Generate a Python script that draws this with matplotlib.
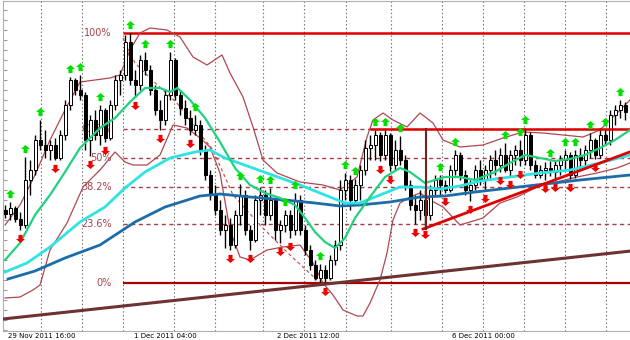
"""Candlestick chart with Fibonacci levels, moving averages and Bollinger bands."""
import matplotlib
matplotlib.use("Agg")
import matplotlib.pyplot as plt
import matplotlib.transforms as mtransforms
from matplotlib.path import Path
from matplotlib.ticker import MultipleLocator
import numpy as np

# --- candles (one per bar) ---
opens = [
    1.2240, 1.2232, 1.2244, 1.2222, 1.2210, 1.2300, 1.2320, 1.2380, 1.2370, 1.2360,
    1.2370, 1.2344, 1.2390, 1.2450, 1.2500, 1.2480, 1.2470, 1.2380, 1.2420, 1.2390,
    1.2440, 1.2384, 1.2450, 1.2500, 1.2510, 1.2576, 1.2500, 1.2490, 1.2540, 1.2520,
    1.2480, 1.2440, 1.2420, 1.2470, 1.2540, 1.2470, 1.2444, 1.2424, 1.2400, 1.2410,
    1.2360, 1.2310, 1.2270, 1.2240, 1.2200, 1.2210, 1.2170, 1.2230, 1.2270, 1.2200,
    1.2180, 1.2260, 1.2270, 1.2230, 1.2260, 1.2200, 1.2210, 1.2230, 1.2200, 1.2260,
    1.2200, 1.2160, 1.2130, 1.2104, 1.2120, 1.2104, 1.2140, 1.2170, 1.2280, 1.2300,
    1.2260, 1.2290, 1.2320, 1.2364, 1.2370, 1.2390, 1.2350, 1.2390, 1.2330, 1.2360,
    1.2340, 1.2290, 1.2250, 1.2240, 1.2260, 1.2230, 1.2280, 1.2300, 1.2290, 1.2280,
    1.2320, 1.2350, 1.2310, 1.2280, 1.2290, 1.2320, 1.2300, 1.2320, 1.2340, 1.2330,
    1.2350, 1.2320, 1.2350, 1.2360, 1.2340, 1.2390, 1.2330, 1.2310, 1.2320, 1.2324,
    1.2316, 1.2330, 1.2340, 1.2350, 1.2310, 1.2350, 1.2340, 1.2360, 1.2380, 1.2350,
    1.2390, 1.2380, 1.2430, 1.2440, 1.2450,
]
highs = [
    1.2250, 1.2256, 1.2248, 1.2236, 1.2346, 1.2340, 1.2390, 1.2420, 1.2400, 1.2380,
    1.2384, 1.2400, 1.2460, 1.2506, 1.2504, 1.2510, 1.2476, 1.2430, 1.2440, 1.2450,
    1.2444, 1.2460, 1.2510, 1.2520, 1.2590, 1.2594, 1.2520, 1.2550, 1.2556, 1.2530,
    1.2490, 1.2460, 1.2480, 1.2556, 1.2544, 1.2480, 1.2460, 1.2440, 1.2430, 1.2420,
    1.2370, 1.2320, 1.2290, 1.2260, 1.2230, 1.2224, 1.2240, 1.2292, 1.2280, 1.2210,
    1.2270, 1.2286, 1.2280, 1.2284, 1.2264, 1.2220, 1.2240, 1.2240, 1.2274, 1.2270,
    1.2210, 1.2170, 1.2140, 1.2132, 1.2130, 1.2150, 1.2180, 1.2300, 1.2314, 1.2310,
    1.2302, 1.2330, 1.2380, 1.2390, 1.2400, 1.2396, 1.2400, 1.2394, 1.2380, 1.2388,
    1.2350, 1.2300, 1.2270, 1.2280, 1.2280, 1.2290, 1.2310, 1.2310, 1.2300, 1.2330,
    1.2360, 1.2356, 1.2320, 1.2300, 1.2330, 1.2340, 1.2330, 1.2350, 1.2360, 1.2364,
    1.2374, 1.2360, 1.2370, 1.2380, 1.2404, 1.2396, 1.2340, 1.2330, 1.2336, 1.2338,
    1.2340, 1.2350, 1.2360, 1.2356, 1.2360, 1.2364, 1.2370, 1.2394, 1.2384, 1.2404,
    1.2400, 1.2440, 1.2450, 1.2460, 1.2456,
]
lows = [
    1.2224, 1.2220, 1.2216, 1.2200, 1.2204, 1.2270, 1.2310, 1.2360, 1.2344, 1.2340,
    1.2340, 1.2340, 1.2380, 1.2440, 1.2470, 1.2460, 1.2360, 1.2348, 1.2380, 1.2370,
    1.2376, 1.2380, 1.2440, 1.2470, 1.2500, 1.2490, 1.2466, 1.2480, 1.2510, 1.2470,
    1.2430, 1.2400, 1.2410, 1.2460, 1.2460, 1.2430, 1.2410, 1.2390, 1.2390, 1.2350,
    1.2300, 1.2260, 1.2230, 1.2190, 1.2164, 1.2160, 1.2164, 1.2210, 1.2190, 1.2160,
    1.2176, 1.2230, 1.2210, 1.2220, 1.2180, 1.2174, 1.2196, 1.2184, 1.2190, 1.2190,
    1.2150, 1.2120, 1.2100, 1.2096, 1.2094, 1.2100, 1.2130, 1.2160, 1.2260, 1.2240,
    1.2250, 1.2260, 1.2310, 1.2340, 1.2340, 1.2338, 1.2340, 1.2318, 1.2320, 1.2330,
    1.2280, 1.2240, 1.2212, 1.2220, 1.2208, 1.2220, 1.2270, 1.2270, 1.2274, 1.2276,
    1.2310, 1.2300, 1.2270, 1.2258, 1.2280, 1.2290, 1.2280, 1.2300, 1.2310, 1.2316,
    1.2316, 1.2308, 1.2330, 1.2328, 1.2330, 1.2320, 1.2304, 1.2304, 1.2300, 1.2308,
    1.2302, 1.2310, 1.2320, 1.2302, 1.2304, 1.2320, 1.2324, 1.2344, 1.2342, 1.2344,
    1.2370, 1.2370, 1.2410, 1.2424, 1.2420,
]
closes = [
    1.2232, 1.2244, 1.2222, 1.2210, 1.2300, 1.2320, 1.2380, 1.2370, 1.2360, 1.2370,
    1.2344, 1.2390, 1.2450, 1.2500, 1.2480, 1.2470, 1.2380, 1.2420, 1.2390, 1.2440,
    1.2384, 1.2450, 1.2500, 1.2510, 1.2576, 1.2500, 1.2490, 1.2540, 1.2520, 1.2480,
    1.2440, 1.2420, 1.2470, 1.2540, 1.2470, 1.2444, 1.2424, 1.2400, 1.2410, 1.2360,
    1.2310, 1.2270, 1.2240, 1.2200, 1.2210, 1.2170, 1.2230, 1.2270, 1.2200, 1.2180,
    1.2260, 1.2270, 1.2230, 1.2260, 1.2200, 1.2210, 1.2230, 1.2200, 1.2260, 1.2200,
    1.2160, 1.2130, 1.2104, 1.2120, 1.2104, 1.2140, 1.2170, 1.2280, 1.2300, 1.2260,
    1.2290, 1.2320, 1.2364, 1.2370, 1.2390, 1.2350, 1.2390, 1.2330, 1.2360, 1.2340,
    1.2290, 1.2250, 1.2240, 1.2260, 1.2230, 1.2280, 1.2300, 1.2290, 1.2280, 1.2320,
    1.2350, 1.2310, 1.2280, 1.2290, 1.2320, 1.2300, 1.2320, 1.2340, 1.2330, 1.2350,
    1.2320, 1.2350, 1.2360, 1.2340, 1.2390, 1.2330, 1.2310, 1.2320, 1.2324, 1.2316,
    1.2330, 1.2340, 1.2350, 1.2310, 1.2350, 1.2340, 1.2360, 1.2380, 1.2350, 1.2390,
    1.2380, 1.2430, 1.2440, 1.2450, 1.2436,
]

# fractal arrows (bar numbers)
fractal_up = [1, 4, 7, 13, 15, 19, 25, 28, 33, 38, 47, 51, 53, 56, 58, 63, 68, 70,
              74, 76, 79, 87, 90, 100, 103, 104, 109, 112, 114, 117, 120, 123]
fractal_down = [3, 10, 17, 20, 26, 31, 37, 45, 49, 55, 57, 64, 75, 77, 82, 84, 88,
                93, 96, 99, 101, 103, 108, 110, 113, 118]

# --- indicators ---
ma_fast_x = [0, 3, 6, 9, 12, 15, 19, 22, 25, 28, 31, 33, 34.5, 37, 40, 43, 46, 49, 52, 55,
             58, 60, 62, 64, 66, 68, 70, 73, 76, 79, 81, 84, 88, 91, 94, 98, 101, 104,
             107, 110, 113, 116, 119, 122, 125]
ma_fast = [1.2140, 1.2174, 1.2230, 1.2270, 1.2316, 1.2364, 1.2404, 1.2424, 1.2456, 1.2484,
           1.2484, 1.2476, 1.2484, 1.2460, 1.2424, 1.2376, 1.2324, 1.2290, 1.2274, 1.2264,
           1.2250, 1.2224, 1.2196, 1.2176, 1.2164, 1.2184, 1.2224, 1.2266, 1.2306, 1.2324,
           1.2316, 1.2294, 1.2306, 1.2306, 1.2300, 1.2316, 1.2334, 1.2350, 1.2344, 1.2338,
           1.2342, 1.2350, 1.2364, 1.2380, 1.2400]

ma_mid_x = [0, 4.4, 9, 15, 20, 24, 28, 33, 38, 41, 44, 49, 54, 59, 64, 68, 71, 75, 79, 83,
            87, 91, 95, 101, 107, 113, 119, 125]
ma_mid = [1.2116, 1.2134, 1.2166, 1.2216, 1.2246, 1.2284, 1.2316, 1.2344, 1.2356, 1.2360,
          1.2344, 1.2326, 1.2308, 1.2290, 1.2270, 1.2254, 1.2254, 1.2270, 1.2286, 1.2286,
          1.2282, 1.2288, 1.2298, 1.2306, 1.2314, 1.2320, 1.2334, 1.2350]

ma_slow_x = [0.6, 6, 12, 19, 26, 32, 39, 43, 49, 56, 62, 67, 71, 77, 83, 88, 94, 101,
             108, 115, 121, 125]
ma_slow = [1.2102, 1.2118, 1.2144, 1.2170, 1.2216, 1.2246, 1.2268, 1.2272, 1.2266, 1.2260,
           1.2254, 1.2248, 1.2250, 1.2256, 1.2266, 1.2268, 1.2276, 1.2284, 1.2292, 1.2300,
           1.2306, 1.2310]

bb_upper_x = [0, 3, 6, 9, 12, 15, 18, 21, 23, 25, 27, 29, 32.4, 35, 37.6, 40.4, 43.4, 45,
              47.6, 49.6, 51.6, 54.4, 59, 63.6, 67, 70.4, 72.4, 73.6, 75.6, 77.6, 80.4, 83,
              85.6, 87.6, 91, 95.6, 99.6, 103.6, 107.6, 111.6, 115.6, 119, 121.6, 125]
bb_upper = [1.2210, 1.2250, 1.2310, 1.2380, 1.2440, 1.2496, 1.2500, 1.2504, 1.2510, 1.2560,
            1.2594, 1.2604, 1.2600, 1.2586, 1.2546, 1.2530, 1.2550, 1.2514, 1.2466, 1.2406,
            1.2340, 1.2314, 1.2296, 1.2290, 1.2280, 1.2306, 1.2386, 1.2420, 1.2434, 1.2420,
            1.2406, 1.2434, 1.2414, 1.2380, 1.2366, 1.2370, 1.2384, 1.2396, 1.2394, 1.2390,
            1.2386, 1.2400, 1.2426, 1.2460]

bb_lower_x = [0, 3, 5.6, 7, 9, 12.4, 15.6, 19, 22, 24, 25.6, 28.4, 31, 33.6, 36.4, 39, 41,
              43, 45, 47, 49, 52.4, 55.6, 59, 61.6, 63.6, 65.6, 67.6, 70.4, 71.6, 73, 75,
              76.4, 77.6, 79, 81, 83, 85, 87.6, 91, 95.6, 99, 102.4, 106.4, 109.6, 114.4,
              118.4, 122.4, 125]
bb_lower = [1.2064, 1.2066, 1.2080, 1.2090, 1.2160, 1.2214, 1.2286, 1.2320, 1.2356, 1.2336,
            1.2330, 1.2330, 1.2350, 1.2410, 1.2404, 1.2384, 1.2366, 1.2314, 1.2200, 1.2146,
            1.2140, 1.2160, 1.2166, 1.2170, 1.2134, 1.2094, 1.2070, 1.2040, 1.2028, 1.2028,
            1.2054, 1.2100, 1.2154, 1.2220, 1.2254, 1.2266, 1.2274, 1.2260, 1.2246, 1.2210,
            1.2224, 1.2254, 1.2266, 1.2286, 1.2294, 1.2306, 1.2314, 1.2324, 1.2334]

# --- drawn objects ---
fib_ratios = [0.0, 0.236, 0.382, 0.5, 0.618, 1.0]
fib_labels = ["0%", "23.6%", "38.2%", "50%", "61.8%", "100%"]
fib_high_bar = 25
fib_low_bar = 64

fan_x = [23.6, 26, 29, 34.4, 38.4, 41.6, 45.6, 51, 57, 62.4]
fan_y = [1.2584, 1.2534, 1.2504, 1.2454, 1.2400, 1.2360, 1.2270, 1.2210, 1.2150, 1.2100]

long_trend_x = [-0.4, 125.2]
long_trend_y = [1.2022, 1.2158]
up_trend_x = [83.6, 125.2]
up_trend_y = [1.2202, 1.2357]
marker_line_x = 84.2
marker_line_y = [1.2404, 1.2200]
resist_start = 73

period_sep = [7.2, 15.4, 23.6, 33.8, 42, 51.6, 59.8, 68.2, 77.2, 87.4, 95.6, 103.8, 112, 120.2]
date_x = [0.6, 25.8, 54.4, 89.4]
date_labels = ["29 Nov 2011 16:00", "1 Dec 2011 04:00", "2 Dec 2011 12:00", "6 Dec 2011 00:00"]

# arrow shaped markers
_up = Path([(0, 1), (1, 0.1), (0.45, 0.1), (0.45, -0.8), (-0.45, -0.8), (-0.45, 0.1),
            (-1, 0.1), (0, 1)],
           [Path.MOVETO] + [Path.LINETO] * 6 + [Path.CLOSEPOLY])
_down = Path([(x, -y) for x, y in _up.vertices], _up.codes)

fig = plt.figure(figsize=(6.3, 3.4), dpi=100)
ax = fig.add_axes([3 / 630, 9 / 340, 628 / 630, 330 / 340])
ax.set_xlim(-0.4, 125.2)
ax.set_ylim(1.1998, 1.2658)

o = np.array(opens)
h = np.array(highs)
l = np.array(lows)
c = np.array(closes)
idx = np.arange(len(c))

# period separators
for xs in period_sep:
    ax.axvline(xs, color="#6a6a6a", lw=0.8, ls=(0, (1.2, 2.2)), zorder=0)

# Fibonacci retracement
lo = l[fib_low_bar]
hi = h[fib_high_bar]
fib_start = fib_high_bar - 1.5
levels = {}
for r, lab in zip(fib_ratios, fib_labels):
    lvl = lo + r * (hi - lo)
    levels[lab] = lvl
    if r == 1.0:
        ax.hlines(lvl, fib_start, 125.2, color="#e00000", lw=1.8, zorder=1)
    elif r == 0.0:
        ax.hlines(lvl, fib_start, 125.2, color="#a80000", lw=1.6, zorder=1)
    else:
        ax.hlines(lvl, fib_start, 125.2, color="#a8404a", lw=1.0, ls=(0, (3, 2.5)), zorder=1)
    ax.text(21.3, lvl, lab, ha="right", va="center", fontsize=7, color="#a8404a", zorder=1)

ax.hlines(levels["61.8%"], resist_start, 125.2, color="#e00000", lw=1.8, zorder=3)

# Bollinger bands
ax.plot(bb_upper_x, bb_upper, color="#b04850", lw=0.9, zorder=2)
ax.plot(bb_lower_x, bb_lower, color="#b04850", lw=0.9, zorder=2)
ax.plot(fan_x, fan_y, color="#c04848", lw=0.8, ls=(0, (3, 2.5)), zorder=2)

# candles
ax.vlines(idx, l, h, color="black", lw=1.0, zorder=2.5)
up = c >= o
body = np.maximum(np.abs(c - o), 0.00006)
ax.bar(idx, body, bottom=np.minimum(o, c), width=0.6,
       color=np.where(up, "white", "black"), edgecolor="black", lw=0.7, zorder=2.6)

# moving averages
ax.plot(ma_slow_x, ma_slow, color="#1b6ca8", lw=2.0, zorder=3)
ax.plot(ma_mid_x, ma_mid, color="#2ee3e3", lw=2.0, zorder=3)
ax.plot(ma_fast_x, ma_fast, color="#1fd27f", lw=1.6, zorder=3)

# trend lines
ax.plot(long_trend_x, long_trend_y, color="#6e3232", lw=2.2, zorder=3)
ax.plot(up_trend_x, up_trend_y, color="#e00000", lw=2.0, zorder=3)
ax.vlines(marker_line_x, marker_line_y[1], marker_line_y[0], color="#7a1f1f", lw=1.5, zorder=3)

# fractals
tr_up = mtransforms.offset_copy(ax.transData, fig=fig, x=0, y=8, units="dots")
tr_dn = mtransforms.offset_copy(ax.transData, fig=fig, x=0, y=-8, units="dots")
ax.plot(fractal_up, h[fractal_up], ls="none", marker=_up, ms=6.5,
        color="#00e000", mec="none", transform=tr_up, zorder=4)
ax.plot(fractal_down, l[fractal_down], ls="none", marker=_down, ms=6.5,
        color="#f00000", mec="none", transform=tr_dn, zorder=4)

# axes frame
ax.yaxis.set_major_locator(MultipleLocator(0.002))
ax.tick_params(axis="y", direction="in", length=3, color="#9a9a9a", labelleft=False)
ax.set_xticks([])
for side in ("top", "bottom", "left"):
    ax.spines[side].set_color("#b0b0b0")
    ax.spines[side].set_linewidth(0.8)
ax.spines["right"].set_visible(False)

# date labels, small so they fit under the plot
lbl_tr = mtransforms.blended_transform_factory(ax.transData, fig.transFigure)
for xd, txt in zip(date_x, date_labels):
    ax.text(xd, 1.5 / 340, txt, transform=lbl_tr, ha="left", va="baseline",
            fontsize=5, color="black", clip_on=False)

fig.savefig("out.png", dpi=100)
plt.close(fig)
